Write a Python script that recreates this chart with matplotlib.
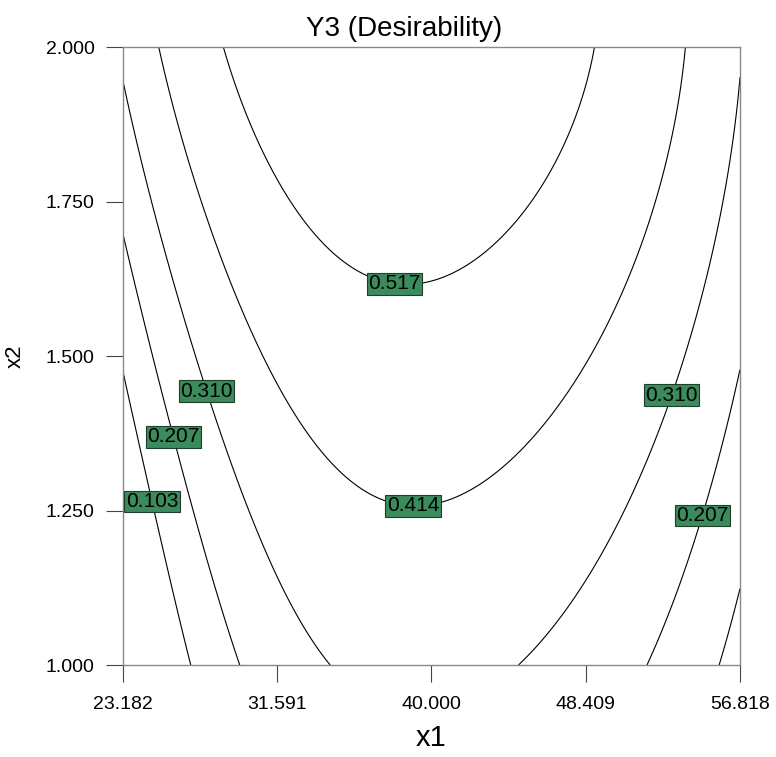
import numpy as np
import matplotlib
matplotlib.use("Agg")
import matplotlib.pyplot as plt

plt.rcParams['font.family'] = ['Liberation Sans', 'DejaVu Sans']

# contour levels shown in the chart
levels = [0.103, 0.207, 0.310, 0.414, 0.517]

# axis ticks
x_ticks = [23.182, 31.591, 40.000, 48.409, 56.818]
y_ticks = [1.000, 1.250, 1.500, 1.750, 2.000]

# points (x1, x2)
c517_x1 = [28.69, 33.38, 38.01, 40.03, 45.92, 49.19]
c517_x2 = [2.000, 1.723, 1.625, 1.605, 1.764, 2.000]

c414_x1 = [25.15, 28.31, 33.00, 36.10, 39.92, 45.92, 48.20, 53.66]
c414_x2 = [2.000, 1.688, 1.396, 1.294, 1.251, 1.364, 1.477, 2.000]

c310_x1 = [23.24, 25.20, 27.76, 28.03, 31.58, 35.18,
           45.26, 48.10, 50.28, 52.73, 53.38, 56.82]
c310_x2 = [1.934, 1.688, 1.440, 1.396, 1.154, 1.000,
           1.000, 1.133, 1.230, 1.440, 1.477, 1.939]

c207_x1 = [23.24, 25.47, 29.45, 51.91, 54.75, 56.82]
c207_x2 = [1.680, 1.380, 1.000, 1.000, 1.243, 1.450]

c103_x1 = [23.24, 24.00, 24.82, 26.84, 55.56, 56.82]
c103_x2 = [1.494, 1.380, 1.265, 1.000, 1.000, 1.121]

traced = [(c103_x1, c103_x2), (c207_x1, c207_x2), (c310_x1, c310_x2),
          (c414_x1, c414_x2), (c517_x1, c517_x2)]

# fit a smooth response surface through the traced contour points
px, py, pz = [], [], []
for lev, (xs, ys) in zip(levels, traced):
    px += xs
    py += ys
    pz += [lev] * len(xs)
px, py, pz = np.array(px), np.array(py), np.array(pz)


def basis(a, b):
    u = (a - 40.0) / 16.818
    v = (b - 1.5) / 0.5
    terms = []
    for total in range(5):
        for k in range(total + 1):
            terms.append(u ** (total - k) * v ** k)
    return np.stack([t * np.ones_like(u) for t in terms], axis=-1)


coef, *_ = np.linalg.lstsq(basis(px, py), pz, rcond=None)

gx = np.linspace(x_ticks[0], x_ticks[-1], 300)
gy = np.linspace(y_ticks[0], y_ticks[-1], 300)
GX, GY = np.meshgrid(gx, gy)
GZ = basis(GX, GY) @ coef

fig = plt.figure(figsize=(7.76, 7.57), dpi=100)
ax = fig.add_axes([0.1585, 0.1215, 0.7951, 0.8164])

cs = ax.contour(GX, GY, GZ, levels=levels, colors='black', linewidths=0.8)

# label positions (data coords) near where the reference puts them
label_pos = [(38.0, 1.625), (39.0, 1.270), (27.65, 1.442), (52.57, 1.442),
             (25.64, 1.367), (54.64, 1.243), (24.82, 1.265)]
texts = ax.clabel(cs, inline=False, fmt='%.3f', fontsize=15,
                  manual=label_pos, colors='black')
for t in texts:
    t.set_rotation(0)
    t.set_bbox(dict(facecolor='#3b8b5d', edgecolor='#1f3f2c',
                    linewidth=0.8, pad=1.0))

ax.set_xlim(x_ticks[0], x_ticks[-1])
ax.set_ylim(y_ticks[0], y_ticks[-1])
ax.set_xticks(x_ticks)
ax.set_xticklabels(['%.3f' % v for v in x_ticks])
ax.set_yticks(y_ticks)
ax.set_yticklabels(['%.3f' % v for v in y_ticks])
ax.tick_params(direction='out', length=12.5, width=0.8, color='#444444',
               labelsize=14, pad=8)
ax.tick_params(axis='x', pad=10)
for s in ax.spines.values():
    s.set_color('#888888')
    s.set_linewidth(1.0)

ax.set_title('Y3 (Desirability)', fontsize=20, x=0.455, pad=8)
ax.set_xlabel('x1', fontsize=21, labelpad=8)
ax.set_ylabel('x2', fontsize=16, labelpad=14)

fig.savefig('out.png', dpi=100)
